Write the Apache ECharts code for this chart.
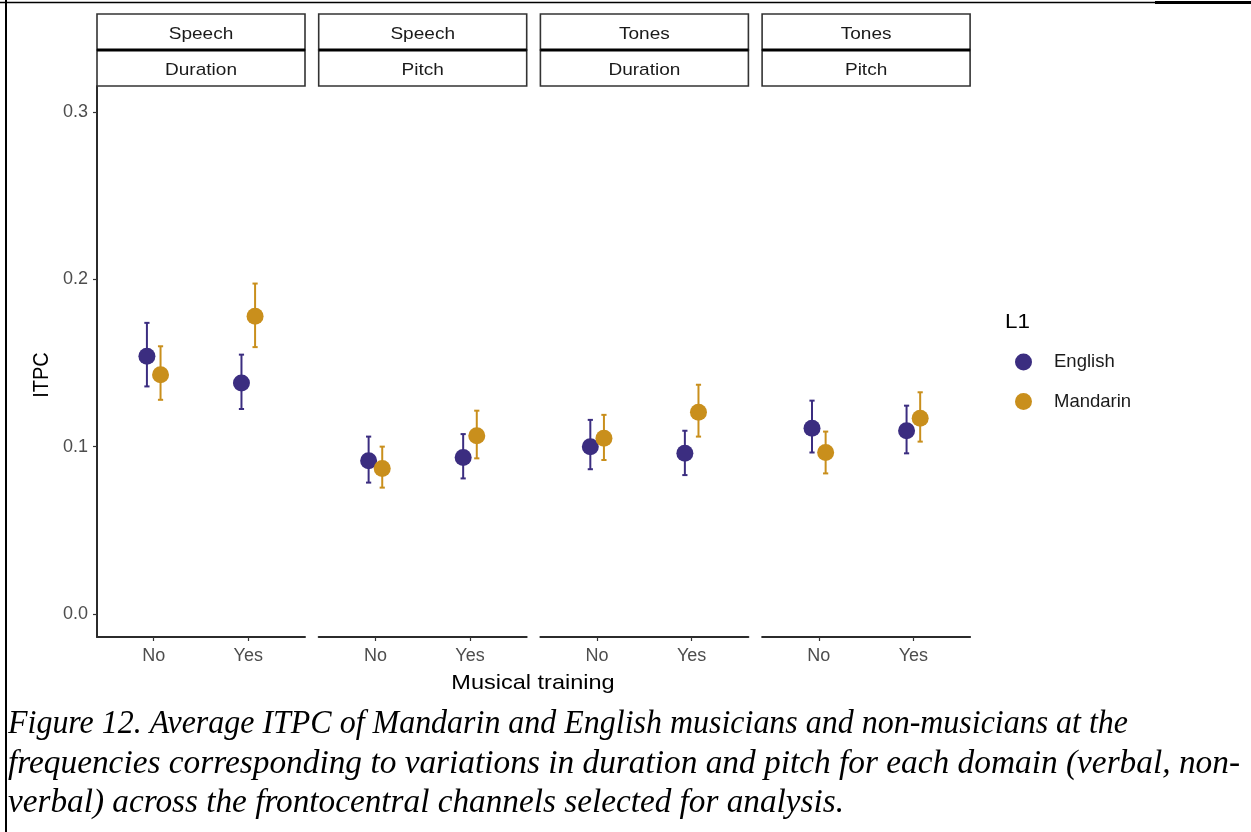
<!DOCTYPE html>
<html>
<head>
<meta charset="utf-8">
<script src="https://cdn.jsdelivr.net/npm/echarts@6/dist/echarts.min.js"></script>
<style>
  html, body { margin: 0; padding: 0; background: #fff; }
  #chart { width: 1251px; height: 832px; }
</style>
</head>
<body>
<div id="chart"></div>
<script>
// Facet labels (two strip rows per panel)
const stripTop = ['Speech', 'Speech', 'Tones', 'Tones'];
const stripBottom = ['Duration', 'Pitch', 'Duration', 'Pitch'];
// Musical training categories
const training = ['No', 'Yes'];
// Y-axis ticks
const yTicks = [0, 0.1, 0.2, 0.3];

// Mean ITPC per panel, [No, Yes]
const englishMean   = [[0.154, 0.138], [0.0915, 0.0935], [0.100, 0.096], [0.111, 0.1095]];
const englishLower  = [[0.136, 0.1225], [0.0785, 0.081], [0.0865, 0.083], [0.0965, 0.096]];
const englishUpper  = [[0.174, 0.155], [0.106, 0.1075], [0.116, 0.1095], [0.1275, 0.1245]];
const mandarinMean  = [[0.143, 0.178], [0.087, 0.1065], [0.105, 0.1205], [0.0965, 0.117]];
const mandarinLower = [[0.128, 0.1595], [0.0755, 0.093], [0.092, 0.106], [0.084, 0.103]];
const mandarinUpper = [[0.160, 0.1975], [0.100, 0.1215], [0.119, 0.137], [0.109, 0.1325]];

const captionLines = [
  'Figure 12. Average ITPC of Mandarin and English musicians and non-musicians at the',
  'frequencies corresponding to variations in duration and pitch for each domain (verbal, non-',
  'verbal) across the frontocentral channels selected for analysis.'
];

const groups = [
  { name: 'English', color: '#3b2d80', mean: englishMean, lo: englishLower, hi: englishUpper, dodge: -0.072 },
  { name: 'Mandarin', color: '#c98f1c', mean: mandarinMean, lo: mandarinLower, hi: mandarinUpper, dodge: 0.072 }
];

// Layout
const FONT = '"Liberation Sans", Arial, sans-serif';
const WIDE = 1.12;               // horizontal widening of sans text
const panelLeft0 = 97, panelStep = 221.7, panelW = 208;
const panelTop = 86, panelBottom = 637;
const stripTopY = 14, stripMidY = 50;

const chart = echarts.init(document.getElementById('chart'), null, { renderer: 'canvas' });

const grids = [], xAxes = [], yAxes = [], series = [], graphics = [];

function label(text, x, y, size, color, align, extra) {
  return Object.assign({
    type: 'text', x: x, y: y, scaleX: WIDE,
    style: { text: text, font: size + 'px ' + FONT, fill: color, align: align || 'center', verticalAlign: 'middle' }
  }, extra || {});
}

for (let p = 0; p < 4; p++) {
  const left = panelLeft0 + p * panelStep;
  grids.push({ left: left, top: panelTop, width: panelW, height: panelBottom - panelTop });
  xAxes.push({
    gridIndex: p, type: 'value', min: 0.4, max: 2.6,
    axisLine: { show: true, onZero: false, lineStyle: { color: '#2b2b2b', width: 2 } },
    axisTick: { show: true, customValues: [1, 2], length: 4, lineStyle: { color: '#333', width: 1.2 } },
    axisLabel: { show: true, customValues: [1, 2], formatter: v => training[Math.round(v) - 1],
                 color: '#4d4d4d', fontSize: 18, fontFamily: FONT, margin: 10 },
    splitLine: { show: false }
  });
  yAxes.push({
    gridIndex: p, type: 'value', min: -0.0138, max: 0.3156,
    axisLine: { show: p === 0, lineStyle: { color: '#2b2b2b', width: 2 } },
    axisTick: { show: p === 0, customValues: yTicks, length: 4, lineStyle: { color: '#333', width: 1.2 } },
    axisLabel: { show: p === 0, customValues: yTicks, formatter: v => v.toFixed(1),
                 color: '#4d4d4d', fontSize: 18, fontFamily: FONT, margin: 9 },
    splitLine: { show: false }
  });

  groups.forEach(g => {
    const pts = training.map((t, i) => [i + 1 + g.dodge, g.mean[p][i], g.lo[p][i], g.hi[p][i]]);
    series.push({
      name: g.name, type: 'custom', xAxisIndex: p, yAxisIndex: p,
      data: pts, z: 2, silent: true,
      renderItem: function (params, api) {
        const x = api.value(0);
        const top = api.coord([x, api.value(3)]);
        const bot = api.coord([x, api.value(2)]);
        const cap = 2.6;
        const style = { stroke: g.color, lineWidth: 2 };
        return {
          type: 'group',
          children: [
            { type: 'line', shape: { x1: top[0], y1: top[1], x2: bot[0], y2: bot[1] }, style },
            { type: 'line', shape: { x1: top[0] - cap, y1: top[1], x2: top[0] + cap, y2: top[1] }, style },
            { type: 'line', shape: { x1: bot[0] - cap, y1: bot[1], x2: bot[0] + cap, y2: bot[1] }, style }
          ]
        };
      }
    });
    series.push({
      name: g.name, type: 'scatter', xAxisIndex: p, yAxisIndex: p,
      data: pts.map(d => [d[0], d[1]]), symbol: 'circle', symbolSize: 17, z: 3,
      itemStyle: { color: g.color, opacity: 1 }, silent: true
    });
  });

  // Strip boxes
  [[stripTopY, stripMidY, stripTop[p]], [stripMidY, panelTop, stripBottom[p]]].forEach(r => {
    graphics.push({
      type: 'rect', shape: { x: left, y: r[0], width: panelW, height: r[1] - r[0] },
      style: { fill: '#fff', stroke: '#333', lineWidth: 1.6 }, z: 10
    });
    graphics.push(label(r[2], left + panelW / 2, (r[0] + r[1]) / 2 + 2.5, 17, '#1a1a1a', 'center', { z: 11 }));
  });
  graphics.push({
    type: 'line', shape: { x1: left, y1: stripMidY, x2: left + panelW, y2: stripMidY },
    style: { stroke: '#000', lineWidth: 3 }, z: 12
  });
}

// Axis titles
graphics.push({
  type: 'text', x: 42, y: 375, rotation: Math.PI / 2, scaleY: WIDE,
  style: { text: 'ITPC', font: '20px ' + FONT, fill: '#000', align: 'center', verticalAlign: 'middle' }
});
graphics.push(label('Musical training', 533, 683, 21, '#000'));
// Legend title
graphics.push(label('L1', 1005, 322, 20, '#000', 'left'));

// Page frame
graphics.push({ type: 'line', shape: { x1: 6, y1: 0, x2: 6, y2: 832 }, style: { stroke: '#000', lineWidth: 2 } });
graphics.push({ type: 'line', shape: { x1: 0, y1: 2.5, x2: 1155, y2: 2.5 }, style: { stroke: '#000', lineWidth: 1.5 } });
graphics.push({ type: 'line', shape: { x1: 1155, y1: 2.5, x2: 1251, y2: 2.5 }, style: { stroke: '#000', lineWidth: 3 } });

// Caption, each line condensed to its set width
const capFont = 'italic 33px "Liberation Serif", "DejaVu Serif", serif';
const ctx = document.createElement('canvas').getContext('2d');
ctx.font = capFont;
const capWidths = [1120, 1232, 836];
const capY = [724, 764, 803];
captionLines.forEach((line, i) => {
  graphics.push({
    type: 'text', x: 8, y: capY[i], scaleX: capWidths[i] / ctx.measureText(line).width,
    style: { text: line, font: capFont, fill: '#000', align: 'left', verticalAlign: 'middle' }
  });
});

chart.setOption({
  backgroundColor: '#fff',
  animation: false,
  grid: grids,
  xAxis: xAxes,
  yAxis: yAxes,
  legend: {
    data: groups.map(g => ({ name: g.name, icon: 'circle', itemStyle: { color: g.color } })),
    orient: 'vertical', left: 1015, top: 352.5, padding: 0,
    itemWidth: 17, itemHeight: 17, itemGap: 20.5,
    textStyle: { fontSize: 18.5, fontFamily: FONT, color: '#1a1a1a', lineHeight: 17, padding: [0, 0, 0, 17] },
    selectedMode: false
  },
  series: series,
  graphic: graphics
});
</script>
</body>
</html>
